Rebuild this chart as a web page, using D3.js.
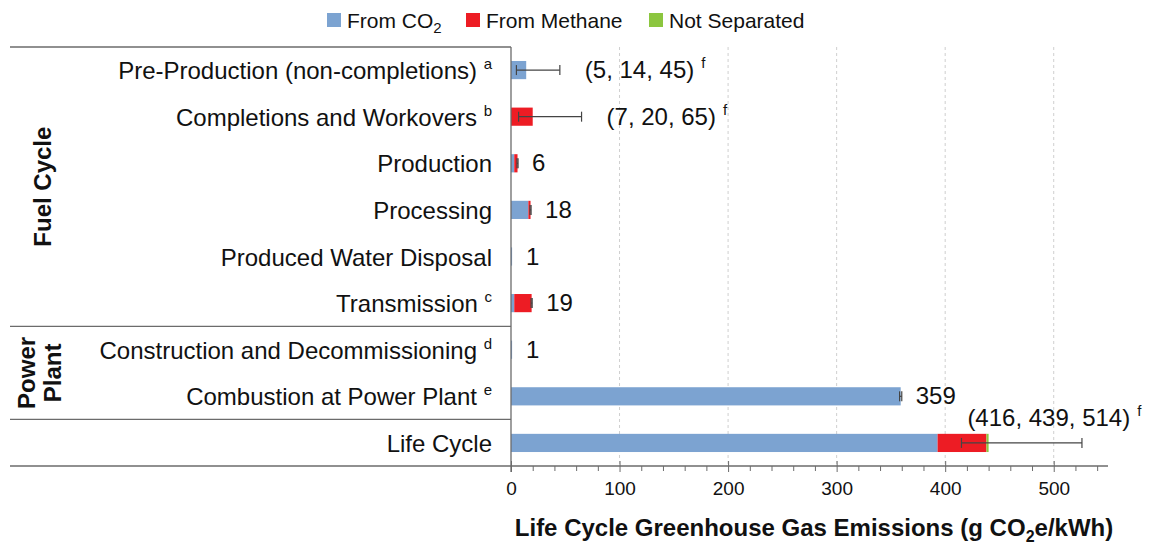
<!DOCTYPE html>
<html>
<head>
<meta charset="utf-8">
<script src="https://cdn.jsdelivr.net/npm/d3@7"></script>
<style>
  body { margin: 0; background: #fff; }
  text { font-family: "Liberation Sans", Arial, sans-serif; fill: #111; }
  .frame { stroke: #6b6b6b; stroke-width: 1.3; }
  .grid { stroke: #cfcfcf; stroke-dasharray: 3,3; }
  .err { stroke: #444; stroke-width: 1.2; }
</style>
</head>
<body>
<script>
const W = 1149, H = 546;
const margin = {left: 511, right: 41, top: 47, bottom: 80};

// rows, top to bottom
const categories = ["Pre-Production (non-completions)", "Completions and Workovers", "Production",
  "Processing", "Produced Water Disposal", "Transmission", "Construction and Decommissioning",
  "Combustion at Power Plant", "Life Cycle"];
const notes = ["a", "b", "", "", "", "c", "d", "e", ""];
const co2 = [14, 0, 3, 16, 1, 3, 1, 359, 393];
const methane = [0, 20, 3, 2, 0, 16, 0, 0, 45];
const notSeparated = [0, 0, 0, 0, 0, 0, 0, 0, 2];
const errLow = [5, 7, 5.5, 17.5, null, 18.5, null, 358, 415];
const errHigh = [45, 65, 6.5, 18.5, null, 19.5, null, 360, 526];
const valueLabels = ["(5, 14, 45)", "(7, 20, 65)", "6", "18", "1", "19", "1", "359", "(416, 439, 514)"];
const valueNotes = ["f", "f", "", "", "", "", "", "", "f"];
const groups = [{name: ["Fuel Cycle"], from: 0, to: 5}, {name: ["Power", "Plant"], from: 6, to: 7}];
const xTicks = [0, 100, 200, 300, 400, 500];
const seriesNames = ["From CO\u2082", "From Methane", "Not Separated"];
const colors = ["#7ca3d1", "#ed1c24", "#8cc63f"];

const innerW = W - margin.left - margin.right;
const innerH = H - margin.top - margin.bottom;

const svg = d3.select("body").append("svg").attr("width", W).attr("height", H);

const x = d3.scaleLinear().domain([0, 550]).range([0, innerW]);
const y = d3.scaleBand().domain(d3.range(categories.length)).range([0, innerH]).paddingInner(0.61).paddingOuter(0.3);
const band = d3.scaleBand().domain(d3.range(categories.length)).range([0, innerH]);

const g = svg.append("g").attr("transform", "translate(" + margin.left + "," + margin.top + ")");

// grid
g.selectAll(".grid").data(xTicks.slice(1)).enter().append("line")
  .attr("class", "grid")
  .attr("x1", d => x(d)).attr("x2", d => x(d))
  .attr("y1", 0).attr("y2", innerH);

// stacked bars
const rows = categories.map((c, i) => ({i: i, vals: [co2[i], methane[i], notSeparated[i]]}));
rows.forEach(r => {
  let acc = 0;
  r.vals.forEach((v, k) => {
    if (v <= 0) return;
    g.append("rect")
      .attr("x", x(acc)).attr("y", y(r.i))
      .attr("width", x(acc + v) - x(acc)).attr("height", y.bandwidth())
      .attr("fill", colors[k]);
    acc += v;
  });
});

// error bars
const capH = 10;
d3.range(categories.length).filter(i => errLow[i] != null).forEach(i => {
  const cy = y(i) + y.bandwidth() / 2;
  g.append("line").attr("class", "err")
    .attr("x1", x(errLow[i])).attr("x2", x(errHigh[i])).attr("y1", cy).attr("y2", cy);
  [errLow[i], errHigh[i]].forEach(v => {
    g.append("line").attr("class", "err")
      .attr("x1", x(v)).attr("x2", x(v)).attr("y1", cy - capH / 2).attr("y2", cy + capH / 2);
  });
});

// value labels
d3.range(categories.length).forEach(i => {
  const cy = y(i) + y.bandwidth() / 2;
  const top = Math.max(errHigh[i] || 0, co2[i] + methane[i] + notSeparated[i]);
  let lx, ly;
  if (i === categories.length - 1) {
    lx = x(414) + 7; ly = cy - 17;
  } else if (valueNotes[i]) {
    lx = x(top) + 25; ly = cy + 8;
  } else {
    lx = x(top) + 14; ly = cy + 8;
  }
  const t = g.append("text").attr("x", lx).attr("y", ly).style("font-size", "24px");
  t.append("tspan").text(valueLabels[i]);
  if (valueNotes[i]) {
    t.append("tspan").attr("dx", 7).attr("dy", -10).style("font-size", "15px").text(valueNotes[i]);
  }
});

// category labels
d3.range(categories.length).forEach(i => {
  const cy = y(i) + y.bandwidth() / 2;
  const t = g.append("text").attr("x", -19).attr("y", cy + 9)
    .attr("text-anchor", "end").style("font-size", "24px");
  t.append("tspan").text(categories[i]);
  if (notes[i]) {
    t.append("tspan").text("\u00a0");
    t.append("tspan").attr("dy", -10).style("font-size", "15px").text(notes[i]);
  }
});

// frame lines on the left
const sepY = [0, band(6), band(8), innerH];
g.selectAll(".sep").data(sepY).enter().append("line")
  .attr("class", "frame")
  .attr("x1", 10 - margin.left).attr("x2", 0)
  .attr("y1", d => d).attr("y2", d => d);
g.append("line").attr("class", "frame").attr("x1", 0).attr("x2", 0).attr("y1", 0).attr("y2", innerH + 6);

// group labels
groups.forEach(gr => {
  const cy = (band(gr.from) + band(gr.to) + band.bandwidth()) / 2;
  const n = gr.name.length;
  gr.name.forEach((line, k) => {
    const cx = 10 - margin.left + (n === 1 ? 33 : 17 + k * 26);
    g.append("text")
      .attr("transform", "translate(" + (cx + 8) + "," + cy + ") rotate(-90)")
      .attr("text-anchor", "middle")
      .style("font-size", "24px").style("font-weight", "bold")
      .text(line);
  });
});

// x axis: minor ticks below the line, major ticks crossing it
const minorAxis = d3.axisBottom(x).tickValues(d3.range(20, 541, 20).filter(d => d % 100)).tickSize(5).tickFormat("");
const ax0 = g.append("g").attr("transform", "translate(0," + innerH + ")").call(minorAxis);
ax0.select(".domain").attr("stroke", "#6b6b6b").attr("stroke-width", 1.3).attr("d", "M0,0H" + innerW);
ax0.selectAll(".tick line").attr("stroke", "#6b6b6b");

const majorAxis = d3.axisBottom(x).tickValues(xTicks).tickSize(6).tickPadding(10);
const ax = g.append("g").attr("transform", "translate(0," + innerH + ")").call(majorAxis);
ax.select(".domain").remove();
ax.selectAll(".tick line").attr("stroke", "#6b6b6b").attr("y1", -5);
ax.selectAll(".tick text").style("font-size", "19px").style("font-family", "Liberation Sans, Arial, sans-serif").attr("fill", "#222");

// x axis title
const xt = svg.append("text").attr("x", margin.left + 303).attr("y", 536)
  .attr("text-anchor", "middle").style("font-size", "24px").style("font-weight", "bold");
xt.append("tspan").text("Life Cycle Greenhouse Gas Emissions (g CO");
xt.append("tspan").attr("dy", 6).style("font-size", "16px").text("2");
xt.append("tspan").attr("dy", -6).text("e/kWh)");

// legend
const legendX = [327, 466, 649];
seriesNames.forEach((s, k) => {
  svg.append("rect").attr("x", legendX[k]).attr("y", 13).attr("width", 14).attr("height", 14).attr("fill", colors[k]);
  const t = svg.append("text").attr("x", legendX[k] + 20).attr("y", 28).style("font-size", "21px");
  if (k === 0) {
    t.append("tspan").text("From CO");
    t.append("tspan").attr("dy", 5).style("font-size", "15px").text("2");
  } else {
    t.text(s);
  }
});
</script>
</body>
</html>
